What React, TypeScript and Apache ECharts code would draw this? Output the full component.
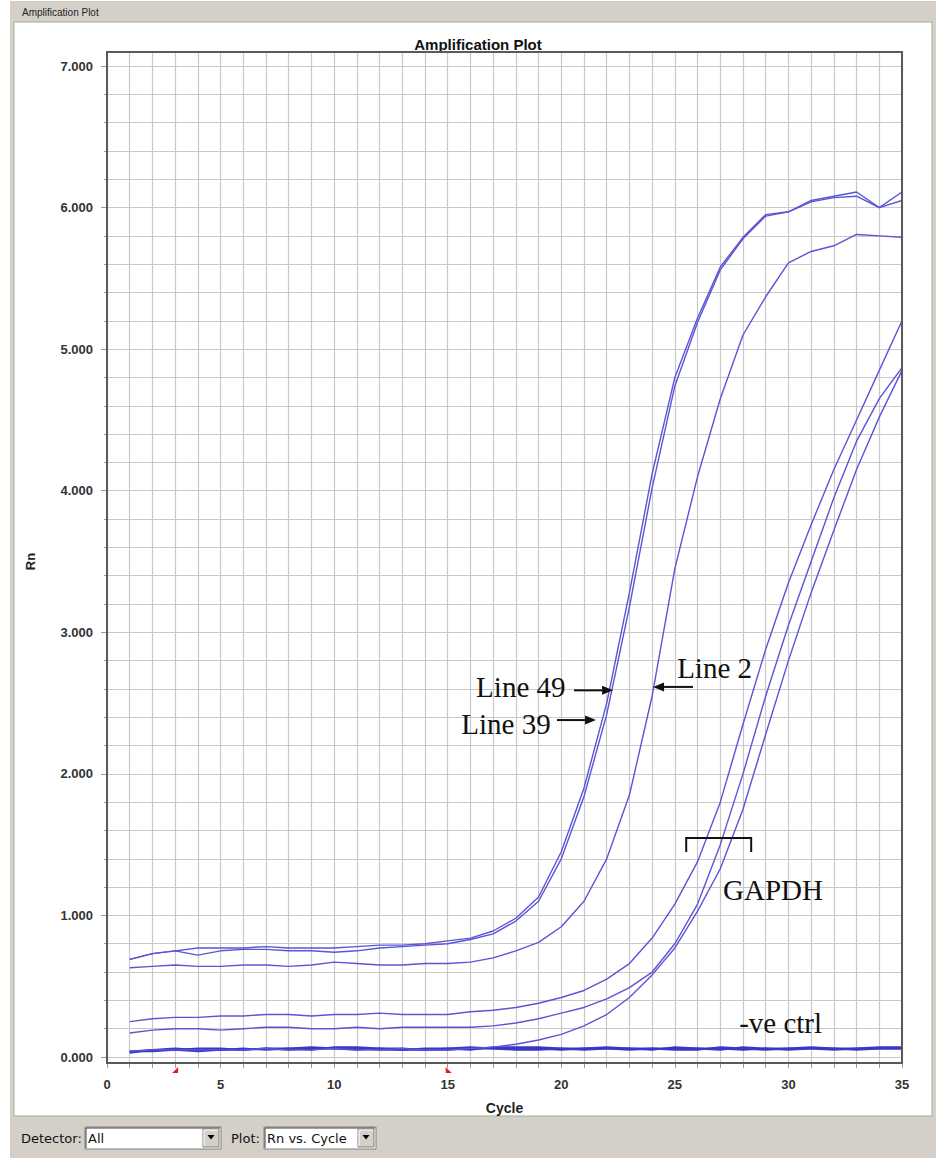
import React, { useEffect, useRef } from 'react';
import * as echarts from 'echarts';

// ---------- data ----------
const cycles = [1, 2, 3, 4, 5, 6, 7, 8, 9, 10, 11, 12, 13, 14, 15, 16, 17, 18, 19, 20, 21, 22, 23, 24, 25, 26, 27, 28, 29, 30, 31, 32, 33, 34, 35];

const line49 = [0.69, 0.73, 0.75, 0.77, 0.77, 0.77, 0.78, 0.77, 0.77, 0.77, 0.78, 0.79, 0.79, 0.80, 0.82, 0.84, 0.89, 0.98, 1.13, 1.45, 1.90, 2.50, 3.28, 4.12, 4.80, 5.22, 5.58, 5.79, 5.95, 5.97, 6.05, 6.08, 6.11, 6.00, 6.11];
const line39 = [0.69, 0.73, 0.75, 0.72, 0.75, 0.76, 0.76, 0.75, 0.75, 0.74, 0.75, 0.77, 0.78, 0.79, 0.80, 0.83, 0.87, 0.96, 1.10, 1.40, 1.84, 2.42, 3.18, 4.02, 4.74, 5.19, 5.56, 5.78, 5.94, 5.97, 6.04, 6.07, 6.08, 6.00, 6.05];
const line2 = [0.63, 0.64, 0.65, 0.64, 0.64, 0.65, 0.65, 0.64, 0.65, 0.67, 0.66, 0.65, 0.65, 0.66, 0.66, 0.67, 0.70, 0.75, 0.81, 0.92, 1.10, 1.40, 1.85, 2.55, 3.45, 4.10, 4.65, 5.10, 5.37, 5.61, 5.69, 5.73, 5.81, 5.80, 5.79];
const gapdhA = [0.25, 0.27, 0.28, 0.28, 0.29, 0.29, 0.30, 0.30, 0.29, 0.30, 0.30, 0.31, 0.30, 0.30, 0.30, 0.32, 0.33, 0.35, 0.38, 0.42, 0.47, 0.55, 0.66, 0.84, 1.08, 1.38, 1.80, 2.35, 2.88, 3.35, 3.76, 4.15, 4.50, 4.85, 5.20];
const gapdhB = [0.17, 0.19, 0.20, 0.20, 0.19, 0.20, 0.21, 0.21, 0.20, 0.20, 0.21, 0.20, 0.21, 0.21, 0.21, 0.21, 0.22, 0.24, 0.27, 0.31, 0.35, 0.41, 0.49, 0.60, 0.80, 1.08, 1.50, 2.00, 2.55, 3.05, 3.50, 3.95, 4.35, 4.65, 4.87];
const gapdhC = [0.04, 0.05, 0.05, 0.05, 0.05, 0.05, 0.06, 0.05, 0.05, 0.06, 0.05, 0.05, 0.06, 0.05, 0.05, 0.06, 0.07, 0.09, 0.12, 0.16, 0.22, 0.30, 0.42, 0.58, 0.77, 1.03, 1.33, 1.75, 2.28, 2.80, 3.28, 3.72, 4.15, 4.52, 4.85];
const negA = [0.03, 0.05, 0.05, 0.04, 0.05, 0.05, 0.06, 0.05, 0.06, 0.06, 0.06, 0.05, 0.05, 0.06, 0.06, 0.07, 0.06, 0.06, 0.06, 0.05, 0.06, 0.06, 0.05, 0.06, 0.06, 0.06, 0.05, 0.07, 0.06, 0.05, 0.06, 0.06, 0.05, 0.06, 0.06];
const negB = [0.04, 0.05, 0.06, 0.05, 0.05, 0.06, 0.05, 0.06, 0.07, 0.06, 0.05, 0.06, 0.06, 0.05, 0.06, 0.05, 0.07, 0.07, 0.07, 0.06, 0.05, 0.06, 0.06, 0.05, 0.07, 0.06, 0.06, 0.05, 0.06, 0.06, 0.07, 0.06, 0.06, 0.07, 0.07];
const negC = [0.04, 0.04, 0.05, 0.06, 0.06, 0.05, 0.06, 0.06, 0.05, 0.07, 0.07, 0.06, 0.05, 0.05, 0.05, 0.06, 0.06, 0.05, 0.05, 0.06, 0.06, 0.07, 0.06, 0.06, 0.05, 0.05, 0.07, 0.06, 0.05, 0.06, 0.06, 0.05, 0.06, 0.06, 0.06];

const sampleSeries = [
  { name: 'Line 49', values: line49 },
  { name: 'Line 39', values: line39 },
  { name: 'Line 2', values: line2 },
  { name: 'GAPDH 1', values: gapdhA },
  { name: 'GAPDH 2', values: gapdhB },
  { name: 'GAPDH 3', values: gapdhC },
];
const controlSeries = [
  { name: '-ve ctrl 1', values: negA },
  { name: '-ve ctrl 2', values: negB },
  { name: '-ve ctrl 3', values: negC },
];

const baselineMarkers = [3, 15];

// annotation anchors in data space (cycle, Rn)
const arrowLabels = [
  { text: 'Line 49', textAt: [16.25, 2.61], align: 'left', from: [20.56, 2.59], to: [22.28, 2.59] },
  { text: 'Line 39', textAt: [15.6, 2.35], align: 'left', from: [19.81, 2.38], to: [21.53, 2.38] },
  { text: 'Line 2', textAt: [25.1, 2.75], align: 'left', from: [25.8, 2.614], to: [24.04, 2.614] },
];
const bracket = { x0: 25.5, x1: 28.36, top: 1.547, bottom: 1.448 };
const plainLabels = [
  { text: 'GAPDH', at: [27.12, 1.18] },
  { text: '-ve ctrl', at: [27.83, 0.24] },
];

// ---------- styles ----------
const SANS = '"Liberation Sans", Arial, sans-serif';
const UI = '"DejaVu Sans", Verdana, sans-serif';
const SERIF = '"Liberation Serif", "Times New Roman", serif';
const gridColor = '#c8c8c8';
const lineColor = '#5b54d6';
const ctrlColor = '#3a36c8';
const chrome = '#d4d0c8';

function buildOption() {
  const mk = (s: { name: string; values: number[] }, color: string, width: number) => ({
    type: 'line',
    name: s.name,
    xAxisIndex: 0,
    yAxisIndex: 0,
    data: cycles.map((c, i) => [c, s.values[i]]),
    symbol: 'none',
    smooth: false,
    lineStyle: { color, width },
    z: 3,
  });
  const labelStyle = { fontFamily: SANS, fontSize: 13, fontWeight: 'bold' as const, color: '#333' };
  return {
    animation: false,
    backgroundColor: '#ffffff',
    grid: [
      { left: 107, right: 34, top: 66, bottom: 105, show: false },
      { left: 107, right: 34, top: 52, bottom: 99, show: false },
    ],
    xAxis: [
      { type: 'value', gridIndex: 0, min: 0, max: 35, show: false },
      {
        type: 'value', gridIndex: 1, min: 0, max: 35, interval: 5,
        axisLine: { show: false },
        axisTick: { show: true, length: 5, lineStyle: { color: '#9a9a9a' } },
        minorTick: { show: true, splitNumber: 5, length: 5, lineStyle: { color: '#9a9a9a' } },
        splitLine: { show: true, lineStyle: { color: gridColor, width: 1.2 } },
        minorSplitLine: { show: true, lineStyle: { color: gridColor, width: 1.2 } },
        axisLabel: { ...labelStyle, margin: 15 },
        name: 'Cycle', nameLocation: 'middle', nameGap: 38,
        nameTextStyle: { fontFamily: SANS, fontSize: 14, fontWeight: 'bold', color: '#222' },
      },
    ],
    yAxis: [
      {
        type: 'value', gridIndex: 0, min: 0, max: 7, interval: 1,
        axisLine: { show: false },
        axisTick: { show: true, length: 6, lineStyle: { color: '#9a9a9a' } },
        minorTick: { show: true, splitNumber: 5, length: 3, lineStyle: { color: '#9a9a9a' } },
        splitLine: { show: true, lineStyle: { color: gridColor, width: 1.2 } },
        minorSplitLine: { show: true, lineStyle: { color: gridColor, width: 1.2 } },
        axisLabel: { ...labelStyle, margin: 14, formatter: (v: number) => v.toFixed(3) },
        name: 'Rn', nameLocation: 'middle', nameGap: 70,
        nameTextStyle: { fontFamily: SANS, fontSize: 13, fontWeight: 'bold', color: '#222' },
      },
      { type: 'value', gridIndex: 1, min: 0, max: 1, show: false },
    ],
    series: [
      ...controlSeries.map((s) => mk(s, ctrlColor, 1.8)),
      ...sampleSeries.map((s) => mk(s, lineColor, 1.4)),
    ],
  };
}

export default function App() {
  const ref = useRef<HTMLDivElement>(null);
  useEffect(() => {
    if (!ref.current) return;
    const chart = echarts.init(ref.current, null, { renderer: 'svg' });
    chart.setOption(buildOption());

    const P = (c: number, v: number) => chart.convertToPixel({ seriesIndex: 0 }, [c, v]) as number[];
    const frameTL = chart.convertToPixel({ gridIndex: 1 }, [0, 1]) as number[];
    const frameBR = chart.convertToPixel({ gridIndex: 1 }, [35, 0]) as number[];

    const g: any[] = [];
    // window chrome
    g.push({ type: 'rect', z: -20, silent: true, shape: { x: 10, y: 0, width: 926, height: 1158 }, style: { fill: chrome } });
    g.push({ type: 'line', z: -19, silent: true, shape: { x1: 10, y1: 0.5, x2: 936, y2: 0.5 }, style: { stroke: '#ffffff', lineWidth: 1 } });
    g.push({ type: 'text', z: -18, x: 22, y: 12, style: { text: 'Amplification Plot', font: `10px ${SANS}`, fill: '#222', align: 'left', verticalAlign: 'middle' } });
    g.push({ type: 'rect', z: -17, silent: true, shape: { x: 14, y: 22, width: 918, height: 1094 }, style: { fill: '#ffffff', stroke: '#a8a8a8', lineWidth: 1 } });

    // title
    g.push({ type: 'text', z: 5, x: 478, y: 44, style: { text: 'Amplification Plot', font: `bold 15px ${SANS}`, fill: '#111', align: 'center', verticalAlign: 'middle' } });

    // frame
    g.push({
      type: 'rect', z: 6, silent: true,
      shape: { x: frameTL[0], y: frameTL[1], width: frameBR[0] - frameTL[0], height: frameBR[1] - frameTL[1] },
      style: { fill: null, stroke: '#5a5a5a', lineWidth: 2 },
    });

    // baseline markers
    baselineMarkers.forEach((c, i) => {
      const x = P(c, 0)[0];
      const y = frameBR[1] + 7;
      const pts = i === 0
        ? [[x - 3, y + 3], [x + 3, y + 3], [x + 3, y - 3]]
        : [[x - 2, y - 3], [x - 2, y + 3], [x + 4, y + 3]];
      g.push({ type: 'polygon', z: 6, shape: { points: pts }, style: { fill: '#e02020' } });
    });

    // arrow annotations
    arrowLabels.forEach((a) => {
      const t = P(a.textAt[0], a.textAt[1]);
      g.push({ type: 'text', z: 10, x: t[0], y: t[1], style: { text: a.text, font: `29px ${SERIF}`, fill: '#111', align: a.align, verticalAlign: 'middle' } });
      const f = P(a.from[0], a.from[1]);
      const to = P(a.to[0], a.to[1]);
      const dir = to[0] > f[0] ? 1 : -1;
      const headLen = 11;
      g.push({ type: 'line', z: 10, shape: { x1: f[0], y1: f[1], x2: to[0] - dir * headLen, y2: to[1] }, style: { stroke: '#111', lineWidth: 2 } });
      g.push({ type: 'polygon', z: 10, shape: { points: [[to[0], to[1]], [to[0] - dir * headLen, to[1] - 4.5], [to[0] - dir * headLen, to[1] + 4.5]] }, style: { fill: '#111' } });
    });

    // bracket
    const b0 = P(bracket.x0, bracket.bottom);
    const b1 = P(bracket.x0, bracket.top);
    const b2 = P(bracket.x1, bracket.top);
    const b3 = P(bracket.x1, bracket.bottom);
    g.push({ type: 'polyline', z: 10, shape: { points: [b0, b1, b2, b3] }, style: { stroke: '#111', lineWidth: 2, fill: null } });

    plainLabels.forEach((l) => {
      const p = P(l.at[0], l.at[1]);
      g.push({ type: 'text', z: 10, x: p[0], y: p[1], style: { text: l.text, font: `29px ${SERIF}`, fill: '#111', align: 'left', verticalAlign: 'middle' } });
    });

    // bottom control bar
    const ui = `13px ${UI}`;
    g.push({ type: 'text', z: 2, x: 21, y: 1138, style: { text: 'Detector:', font: ui, fill: '#111', align: 'left', verticalAlign: 'middle' } });
    const combo = (x: number, w: number, label: string) => {
      g.push({ type: 'rect', z: 2, shape: { x, y: 1127, width: w, height: 22 }, style: { fill: '#ffffff', stroke: '#808080', lineWidth: 1 } });
      g.push({ type: 'polyline', z: 2, shape: { points: [[x + 1, 1148], [x + 1, 1128], [x + w - 1, 1128]] }, style: { stroke: '#404040', lineWidth: 1, fill: null } });
      g.push({ type: 'text', z: 2, x: x + 3, y: 1138, style: { text: label, font: ui, fill: '#111', align: 'left', verticalAlign: 'middle' } });
      const bx = x + w - 18;
      g.push({ type: 'rect', z: 3, shape: { x: bx, y: 1129, width: 16, height: 18 }, style: { fill: chrome, stroke: '#808080', lineWidth: 1 } });
      g.push({ type: 'polyline', z: 3, shape: { points: [[bx + 1, 1146], [bx + 1, 1130], [bx + 15, 1130]] }, style: { stroke: '#ffffff', lineWidth: 1, fill: null } });
      g.push({ type: 'polygon', z: 3, shape: { points: [[bx + 4.5, 1135], [bx + 11.5, 1135], [bx + 8, 1139.5]] }, style: { fill: '#000' } });
    };
    combo(85, 136, 'All');
    g.push({ type: 'text', z: 2, x: 231, y: 1138, style: { text: 'Plot:', font: ui, fill: '#111', align: 'left', verticalAlign: 'middle' } });
    combo(264, 112, 'Rn vs. Cycle');

    chart.setOption({ graphic: g });
    return () => chart.dispose();
  }, []);
  return <div ref={ref} style={{ position: 'absolute', left: 0, top: 0, width: 936, height: 1162 }} />;
}
